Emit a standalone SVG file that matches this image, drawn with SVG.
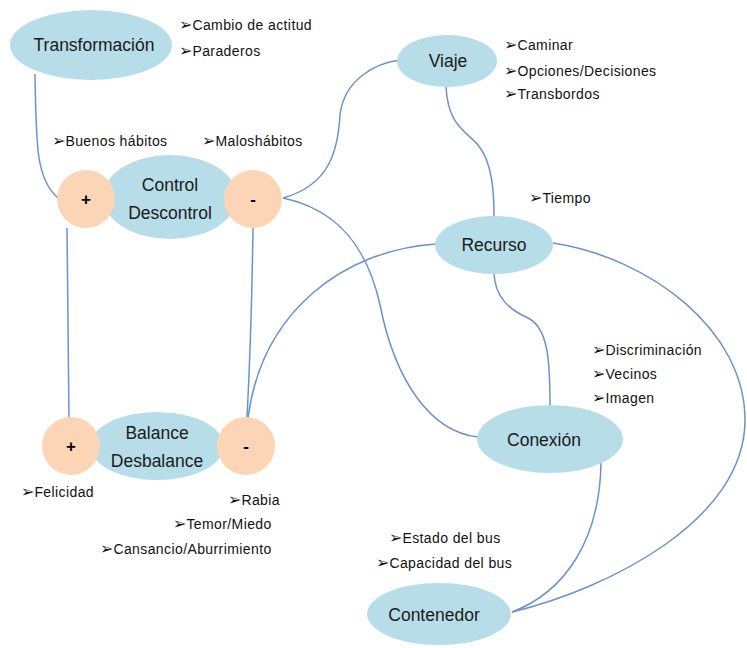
<svg xmlns="http://www.w3.org/2000/svg" width="747" height="648" viewBox="0 0 747 648">
<style>
.n{fill:#b7dde8}
.c{fill:#fbd5b5}
.t{font-family:"Liberation Sans",Arial,sans-serif;font-size:17.5px;fill:#1a1a1a;text-anchor:middle}
.s{font-family:"Liberation Sans",Arial,sans-serif;font-size:17px;font-weight:bold;fill:#000;text-anchor:middle}
.b{font-family:"Liberation Sans",Arial,sans-serif;font-size:14px;letter-spacing:0.4px;fill:#111}
.a{font-family:"DejaVu Sans",sans-serif;font-weight:bold;font-size:16px;letter-spacing:0}
.l{fill:none;stroke:#6b93c9;stroke-width:1.5}
</style>
<rect width="747" height="648" fill="#fff"/>
<g id="connectors">
<path class="l" d="M35,74 C36,150 37,180 58,198"/>
<path class="l" d="M283,198 C330,185 338,150 340,115 C344,80 375,63 400,60"/>
<path class="l" d="M283,198 C340,210 368,250 380,305 C395,380 430,432 478,437"/>
<path class="l" d="M446,87 C448,125 465,130 478,145 C492,162 494,190 494,217"/>
<path class="l" d="M494,273 C495,298 510,310 528,318 C548,328 550,360 550,405"/>
<path class="l" d="M436,244 C345,250 262,310 248,418"/>
<path class="l" d="M253,228 C252,300 250,360 247,418"/>
<path class="l" d="M67,228 L69,418"/>
<path class="l" d="M553,243 C650,258 745,330 745,420 C745,520 610,588 512,612"/>
<path class="l" d="M601,462 C600,540 565,592 512,612"/>
</g>
<g id="transformacion">
<ellipse class="n" cx="91" cy="45" rx="81" ry="35"/>
<text class="t" x="94" y="51" font-size="19">Transformación</text>
</g>
<g id="control">
<ellipse class="n" cx="170" cy="197" rx="67" ry="42"/>
<text class="t" x="170" y="191">Control</text>
<text class="t" x="170" y="219">Descontrol</text>
</g>
<g id="control-plus">
<circle class="c" cx="86" cy="199" r="29"/>
<text class="s" x="86" y="205">+</text>
</g>
<g id="control-minus">
<circle class="c" cx="253" cy="199" r="29"/>
<text class="s" x="253" y="205">-</text>
</g>
<g id="balance">
<ellipse class="n" cx="157" cy="446" rx="67" ry="34"/>
<text class="t" x="157" y="439">Balance</text>
<text class="t" x="157" y="467">Desbalance</text>
</g>
<g id="balance-plus">
<circle class="c" cx="71" cy="446" r="29"/>
<text class="s" x="71" y="452">+</text>
</g>
<g id="balance-minus">
<circle class="c" cx="246" cy="446" r="29"/>
<text class="s" x="246" y="452">-</text>
</g>
<g id="viaje">
<ellipse class="n" cx="447" cy="61" rx="50" ry="26"/>
<text class="t" x="448" y="67">Viaje</text>
</g>
<g id="recurso">
<ellipse class="n" cx="494" cy="245" rx="59" ry="29"/>
<text class="t" x="494" y="251">Recurso</text>
</g>
<g id="conexion">
<ellipse class="n" cx="550" cy="439" rx="73" ry="34"/>
<text class="t" x="544" y="446">Conexión</text>
</g>
<g id="contenedor">
<ellipse class="n" cx="439" cy="614" rx="72" ry="31"/>
<text class="t" x="434" y="621">Contenedor</text>
</g>
<g id="labels">
<text class="b" x="179" y="30"><tspan class="a">➢</tspan>Cambio de actitud</text>
<text class="b" x="179" y="56"><tspan class="a">➢</tspan>Paraderos</text>
<text class="b" x="52" y="146"><tspan class="a">➢</tspan>Buenos hábitos</text>
<text class="b" x="202" y="146"><tspan class="a">➢</tspan>Maloshábitos</text>
<text class="b" x="504" y="50"><tspan class="a">➢</tspan>Caminar</text>
<text class="b" x="504" y="76"><tspan class="a">➢</tspan>Opciones/Decisiones</text>
<text class="b" x="504" y="99"><tspan class="a">➢</tspan>Transbordos</text>
<text class="b" x="529" y="203"><tspan class="a">➢</tspan>Tiempo</text>
<text class="b" x="592" y="355"><tspan class="a">➢</tspan>Discriminación</text>
<text class="b" x="592" y="379"><tspan class="a">➢</tspan>Vecinos</text>
<text class="b" x="592" y="403"><tspan class="a">➢</tspan>Imagen</text>
<text class="b" x="21" y="497"><tspan class="a">➢</tspan>Felicidad</text>
<text class="b" x="228" y="505"><tspan class="a">➢</tspan>Rabia</text>
<text class="b" x="173" y="529"><tspan class="a">➢</tspan>Temor/Miedo</text>
<text class="b" x="100" y="554"><tspan class="a">➢</tspan>Cansancio/Aburrimiento</text>
<text class="b" x="389" y="543"><tspan class="a">➢</tspan>Estado del bus</text>
<text class="b" x="376" y="568"><tspan class="a">➢</tspan>Capacidad del bus</text>
</g>
</svg>
